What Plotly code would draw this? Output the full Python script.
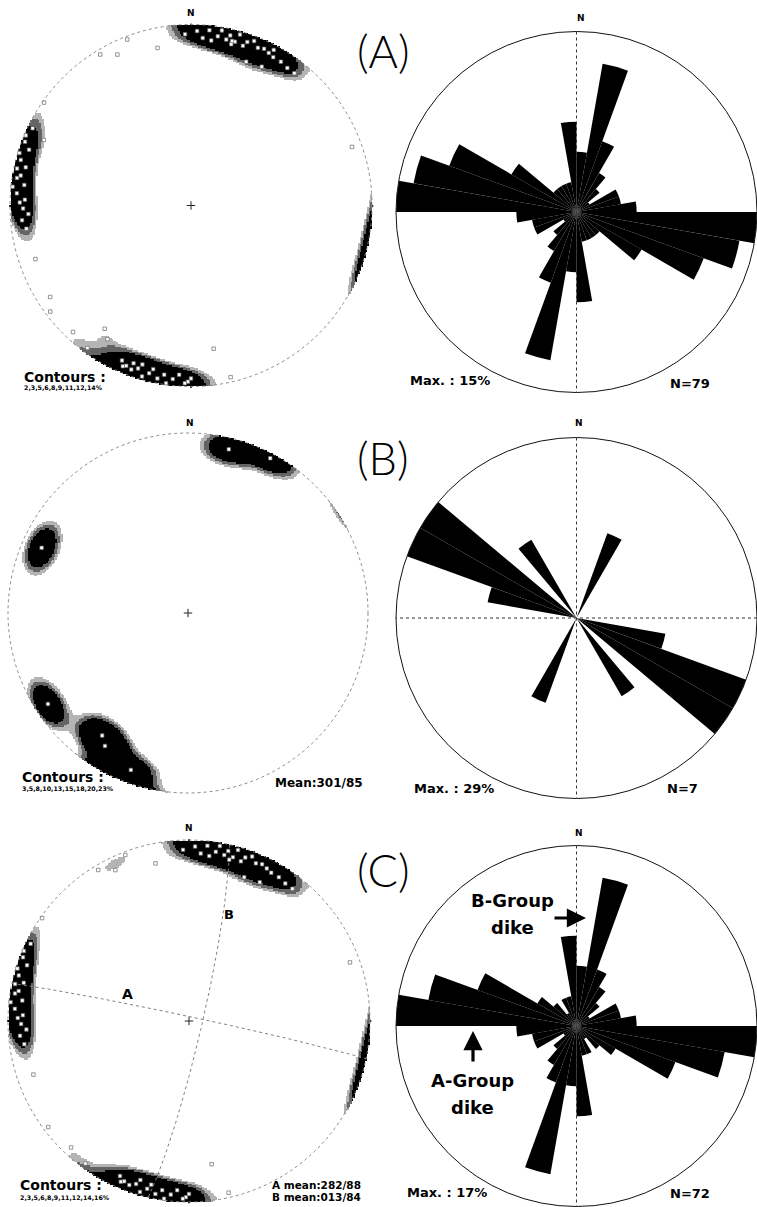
import numpy as np
import plotly.graph_objects as go

W, H = 757, 1207

# ---------------- data ----------------
# rose diagrams: strike counts in 10-degree bins 0-180 (mirrored to 180-360)
bin_start = list(range(0, 180, 10))
rose_A = [4, 10, 5, 3, 2, 1, 3, 3, 4, 12, 11, 9, 5, 2, 2, 2, 2, 6]
rose_B = [0, 0, 1, 0, 0, 0, 0, 0, 0, 0, 1, 2, 2, 0, 1, 0, 0, 0]
rose_C = [4, 10, 4, 3, 2, 1, 3, 3, 4, 12, 10, 7, 3, 2, 1, 2, 2, 6]
rose_max_count = [12, 2, 12]
rose_N = [79, 7, 72]
rose_max_pct = [15, 29, 17]

# poles to dikes (trend, plunge), lower hemisphere
poles_C_trend = [358, 2, 4, 6, 7, 9, 10, 12, 13, 15, 16, 18, 19, 21, 23, 25, 27, 29, 32, 35, 14,
                 181, 180, 182, 184, 186, 188, 189, 191, 193, 194, 196, 198, 200, 202, 203, 204, 197,
                 262, 265, 267, 269, 271, 272, 274, 276, 277, 279, 280, 282, 283, 285, 287, 289, 291, 293, 296,
                 329, 334, 348, 339, 21, 27, 38, 233, 223, 216, 171, 70, 251, 305, 167]
poles_C_plunge = [6, 4, 8, 3, 9, 6, 2, 7, 4, 7, 2, 8, 5, 3, 6, 5, 6, 7, 7, 8, 9,
                  3, 5, 2, 7, 4, 1, 6, 3, 8, 5, 2, 6, 4, 5, 4, 7, 9,
                  9, 7, 11, 8, 6, 9, 4, 1, 8, 3, 5, 2, 7, 3, 1, 6, 2, 1, 3,
                  3, 8, 12, 2, 16, 15, 8, 3, 5, 3, 21, 6, 10, 1, 3]
poles_B_trend = [14, 28, 294, 237, 215, 200, 212]
poles_B_plunge = [7, 3, 12, 8, 18, 8, 14]
poles_A_trend = poles_C_trend + poles_B_trend
poles_A_plunge = poles_C_plunge + poles_B_plunge

mean_plane_strike = [282, 13]   # A mean, B mean
mean_plane_dip = [88, 84]

contour_labels = ["2,3,5,6,8,9,11,12,14%", "3,5,8,10,13,15,18,20,23%", "2,3,5,6,8,9,11,12,14,16%"]
panel_labels = ["(A)", "(B)", "(C)"]

# ---------------- styling / geometry (pixels) ----------------
shade_levels = [(2.8, 3.6, 4.7), (3.0, 4.5, 6.5), (2.8, 3.6, 4.7)]
stereo_geo = [(191, 205.5, 181), (188, 613, 180), (189, 1021, 181)]
rose_cy = [212, 618, 1026]
rose_R = 180.5


def proj(tr, pl):
    tr = np.radians(np.asarray(tr, float))
    pl = np.asarray(pl, float)
    r = np.sqrt(2) * np.sin(np.radians(90 - pl) / 2)
    return r * np.sin(tr), r * np.cos(tr)


def vec(tr, pl):
    tr = np.radians(np.asarray(tr, float))
    pl = np.radians(np.asarray(pl, float))
    return np.stack([np.cos(pl) * np.sin(tr), np.cos(pl) * np.cos(tr), np.sin(pl)], -1)


def density_pct(tr, pl, k=100, n=241):
    """percent of poles per 1% area (smoothed counting, axial)"""
    g = np.linspace(-1, 1, n)
    X, Y = np.meshgrid(g, g)
    R = np.hypot(X, Y)
    inside = R <= 1.0
    plg = 90 - 2 * np.degrees(np.arcsin(np.clip(R / np.sqrt(2), 0, 1)))
    trg = np.degrees(np.arctan2(X, Y))
    G = vec(trg, plg)
    P = vec(tr, pl)
    D = np.exp(k * (np.abs(G @ P.T) - 1)).sum(-1)
    pct = 100.0 * D / len(tr)
    pct[~inside] = np.nan
    return g, pct


def great_circle(strike, dip):
    lam = np.radians(np.linspace(0, 180, 241))
    s, d = np.radians(strike), np.radians(dip)
    sv = np.array([np.sin(s), np.cos(s), 0.0])
    dv = np.array([np.cos(d) * np.sin(s + np.pi / 2), np.cos(d) * np.cos(s + np.pi / 2), np.sin(d)])
    v = np.outer(np.cos(lam), sv) + np.outer(np.sin(lam), dv)
    tr = np.degrees(np.arctan2(v[:, 0], v[:, 1]))
    pl = np.degrees(np.arcsin(np.clip(v[:, 2], -1, 1)))
    return proj(tr, pl)


def px(x, y):
    return x / W, 1 - y / H


fig = go.Figure()
pole_sets = [(poles_A_trend, poles_A_plunge), (poles_B_trend, poles_B_plunge), (poles_C_trend, poles_C_plunge)]
rose_sets = [rose_A, rose_B, rose_C]
layout_axes = {}
shapes = []
annotations = []
EXT = 1.03
ZMAX = 40.0

for i in range(3):
    sfx = '' if i == 0 else str(i + 1)
    cx, cy, R = stereo_geo[i]
    x0p, x1p = max(cx - EXT * R, 0), min(cx + EXT * R, W)
    y0p, y1p = max(cy - EXT * R, 0), min(cy + EXT * R, H)
    layout_axes['xaxis' + sfx] = dict(domain=[x0p / W, x1p / W], range=[(x0p - cx) / R, (x1p - cx) / R],
                                      visible=False, fixedrange=True)
    layout_axes['yaxis' + sfx] = dict(domain=[1 - y1p / H, 1 - y0p / H], range=[(cy - y1p) / R, (cy - y0p) / R],
                                      visible=False, fixedrange=True)
    xa, ya = 'x' + sfx, 'y' + sfx
    tr, pl = pole_sets[i]
    g, D = density_pct(tr, pl)
    lo, mid, hi = shade_levels[i]
    D[D < lo] = np.nan
    D = np.clip(D, 0, ZMAX)
    f = lambda v: (v - lo) / (ZMAX - lo)
    cs = [[0, '#b4b4b4'], [f(mid), '#b4b4b4'], [f(mid), '#646464'], [f(hi), '#646464'],
          [f(hi), '#000000'], [1, '#000000']]
    fig.add_trace(go.Heatmap(x=g, y=g, z=D, zmin=lo, zmax=ZMAX, colorscale=cs,
                             showscale=False, hoverinfo='skip', xaxis=xa, yaxis=ya))
    # primitive circle
    shapes.append(dict(type='circle', xref=xa, yref=ya, x0=-1, y0=-1, x1=1, y1=1,
                       line=dict(color='#8a8a8a', width=1, dash='dot')))
    if i == 2:
        for s, d in zip(mean_plane_strike, mean_plane_dip):
            gx, gy = great_circle(s, d)
            fig.add_trace(go.Scatter(x=gx, y=gy, mode='lines', xaxis=xa, yaxis=ya,
                                     line=dict(color='#808080', width=1, dash='dot'), hoverinfo='skip'))
    px_, py_ = proj(tr, pl)
    fig.add_trace(go.Scatter(x=px_, y=py_, mode='markers', xaxis=xa, yaxis=ya, hoverinfo='skip',
                             marker=dict(symbol='square', size=3.5, color='white',
                                         line=dict(color='#6a6a6a', width=0.7))))
    fig.add_trace(go.Scatter(x=[0], y=[0], mode='markers', xaxis=xa, yaxis=ya, hoverinfo='skip',
                             marker=dict(symbol='cross-thin', size=6, line=dict(color='#222', width=1))))

    # rose diagram
    pol = 'polar' + sfx
    ry = rose_cy[i]
    layout_axes[pol] = dict(
        domain=dict(x=[396 / W, 1.0], y=[max(0, 1 - (ry + rose_R) / H), min(1, 1 - (ry - rose_R) / H)]),
        bgcolor='rgba(0,0,0,0)',
        angularaxis=dict(direction='clockwise', rotation=90, showticklabels=False, ticks='',
                         showgrid=False, showline=True, linecolor='#111', linewidth=1),
        radialaxis=dict(visible=False, range=[0, rose_max_count[i]]))
    m = rose_max_count[i]
    fig.add_trace(go.Scatterpolar(r=[m, 0, m], theta=[0, 0, 180], mode='lines', subplot=pol,
                                  line=dict(color='#333', width=1, dash='dot'), hoverinfo='skip'))
    if i == 1:
        fig.add_trace(go.Scatterpolar(r=[m, 0, m], theta=[90, 90, 270], mode='lines', subplot=pol,
                                      line=dict(color='#333', width=1, dash='dot'), hoverinfo='skip'))
    counts = rose_sets[i]
    theta = [b + 5 for b in bin_start] + [b + 185 for b in bin_start]
    fig.add_trace(go.Barpolar(r=counts + counts, theta=theta, width=[10] * 36, subplot=pol,
                              marker=dict(color='black', line=dict(width=0)), hoverinfo='skip'))


def ann(x, y, text, size, weight=700, xanchor='center', family='DejaVu Sans'):
    ax, ay = px(x, y)
    annotations.append(dict(x=ax, y=ay, xref='paper', yref='paper', text=text, showarrow=False,
                            xanchor=xanchor, yanchor='middle',
                            font=dict(family=family, size=size, color='black', weight=weight)))


# N labels
for (x, y) in [(191, 13), (190, 423), (189, 828), (581, 18), (579, 423), (579, 833)]:
    ann(x, y, 'N', 9)
# panel labels
for lab, y in zip(panel_labels, [51, 458, 870]):
    ann(383, y, lab, 45, weight=300, family='Lato')
# rose texts
for i, (ym, yn) in enumerate([(380, 383), (788, 788), (1192, 1193)]):
    ann([408, 412, 405][i], ym, 'Max. : %d%%' % rose_max_pct[i], 13, xanchor='left')
    ann([668, 665, 668][i], yn, 'N=%d' % rose_N[i], 13, xanchor='left')
# contours
for i, (yc, ys, xl) in enumerate([(377, 388, 22), (777, 788, 20), (1185, 1197, 18)]):
    ann(xl, yc, 'Contours :', 14, xanchor='left')
    ann(xl, ys, contour_labels[i], 6.3, xanchor='left')
ann(273, 783, 'Mean:301/85', 12, xanchor='left')
ann(363, 1185, 'A mean:%03d/%02d' % (mean_plane_strike[0], mean_plane_dip[0]), 10.5, xanchor='right')
ann(363, 1197, 'B mean:%03d/%02d' % (mean_plane_strike[1], mean_plane_dip[1]), 10.5, xanchor='right')
ann(127, 994, 'A', 14)
ann(229, 914, 'B', 13)
# group labels
ann(512, 900, 'B-Group', 18)
ann(512, 927, 'dike', 18)
ann(472, 1080, 'A-Group', 18)
ann(472, 1107, 'dike', 18)
# arrows
for (hx, hy, axo, ayo) in [(586, 918, -33, 0), (473, 1031, 0, 32)]:
    x, y = px(hx, hy)
    annotations.append(dict(x=x, y=y, xref='paper', yref='paper', text='', showarrow=True,
                            ax=axo, ay=ayo, arrowhead=2, arrowsize=1.2, arrowwidth=3.2,
                            arrowcolor='black', standoff=0))

fig.update_layout(width=W, height=H, margin=dict(l=0, r=0, t=0, b=0), showlegend=False,
                  paper_bgcolor='white', plot_bgcolor='rgba(0,0,0,0)',
                  shapes=shapes, annotations=annotations, **layout_axes)
fig.write_html("out.html", config={'displayModeBar': False},
               post_script="document.body.style.margin='0px';document.body.style.overflow='hidden';")
